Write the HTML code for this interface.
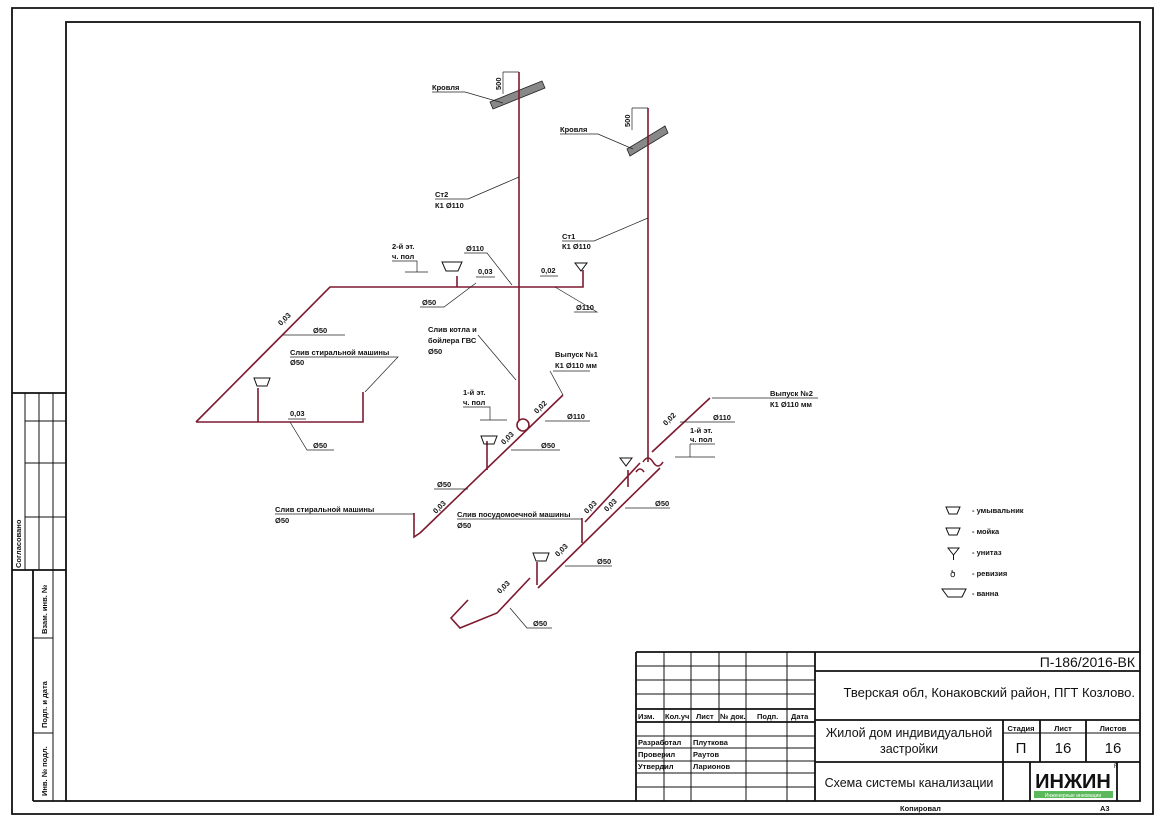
<!DOCTYPE html>
<html><head><meta charset="utf-8"><style>
html,body{margin:0;padding:0;background:#fff}
svg{display:block}
text{font-family:"Liberation Sans",sans-serif;fill:#111}
.t{font-size:7.5px;font-weight:bold}
.p{stroke:#7d1a30;stroke-width:1.6;fill:none}
.l{stroke:#222;stroke-width:0.7;fill:none}
.b{stroke:#111;stroke-width:1.8;fill:none}
.g{stroke:#111;stroke-width:1;fill:none}
</style></head><body>
<svg width="1166" height="824" viewBox="0 0 1166 824" xmlns="http://www.w3.org/2000/svg">
<path d="M12 8 H1153 V814 H12 Z" class="b" stroke-width="1.5"/>
<rect x="66" y="22" width="1074" height="779" class="b" stroke-width="2"/>
<path class="b" d="M12 393 H66 M12 570 H66 M33 570 V801 M33 801 H66" stroke-width="1.5"/>
<path class="g" d="M25 393 V570 M39 393 V570 M53 393 V570 M25 421 H66 M25 463 H66 M25 517 H66 M53 570 V801 M33 638 H53 M33 733 H53"/>
<text class="t" transform="translate(21,568) rotate(-90)">Согласовано</text>
<text class="t" transform="translate(47,634) rotate(-90)">Взам. инв. №</text>
<text class="t" transform="translate(47,728) rotate(-90)">Подп. и дата</text>
<text class="t" transform="translate(47,796) rotate(-90)">Инв. № подл.</text>
<path class="b" d="M636 652 H1140 M636 652 V801 M815 652 V801 M815 671 H1140 M815 720 H1140 M815 762 H1140 M1003 720 V801 M1040 720 V762 M1086 720 V762 M1030 762 V801 M1117 762 V801 M636 709 H815 M636 722 H815"/>
<path class="g" d="M664 652 V801 M691 652 V801 M719 652 V722 M746 652 V801 M787 652 V801 M636 666 H815 M636 680 H815 M636 694 H815 M636 736 H815 M636 748 H815 M636 761 H815 M636 773 H815 M636 787 H815 M1003 733 H1140 M691 722 V801"/>
<text class="t" x="638" y="719" font-size="6">Изм.</text>
<text class="t" x="665" y="719" font-size="6">Кол.уч</text>
<text class="t" x="696" y="719" font-size="6">Лист</text>
<text class="t" x="720" y="719" font-size="6">№ док.</text>
<text class="t" x="757" y="719" font-size="6">Подп.</text>
<text class="t" x="791" y="719" font-size="6">Дата</text>
<text class="t" x="638" y="745" font-size="7">Разработал</text>
<text class="t" x="693" y="745" font-size="7">Плуткова</text>
<text class="t" x="638" y="757" font-size="7">Проверил</text>
<text class="t" x="693" y="757" font-size="7">Раутов</text>
<text class="t" x="638" y="769" font-size="7">Утвердил</text>
<text class="t" x="693" y="769" font-size="7">Ларионов</text>
<text x="1135" y="667" font-size="14" text-anchor="end">П-186/2016-ВК</text>
<text x="1135" y="697" font-size="13" text-anchor="end">Тверская обл, Конаковский район, ПГТ Козлово.</text>
<text x="909" y="737" font-size="12.5" text-anchor="middle">Жилой дом индивидуальной</text>
<text x="909" y="753" font-size="12.5" text-anchor="middle">застройки</text>
<text x="909" y="787" font-size="12.5" text-anchor="middle">Схема системы канализации</text>
<text class="t" x="1021" y="731" font-size="6" text-anchor="middle">Стадия</text>
<text class="t" x="1063" y="731" font-size="6" text-anchor="middle">Лист</text>
<text class="t" x="1113" y="731" font-size="6" text-anchor="middle">Листов</text>
<text x="1021" y="753" font-size="15" text-anchor="middle">П</text>
<text x="1063" y="753" font-size="15" text-anchor="middle">16</text>
<text x="1113" y="753" font-size="15" text-anchor="middle">16</text>
<text x="1073" y="788" font-size="20" font-weight="bold" text-anchor="middle">ИНЖИН</text>
<rect x="1034" y="791" width="79" height="7" fill="#5bb85b"/>
<text x="1073" y="797" font-size="5" text-anchor="middle" style="fill:#fff">Инженерные инновации</text>
<text x="1114" y="768" font-size="6">R</text>
<text class="t" x="900" y="811" font-size="7">Копировал</text>
<text class="t" x="1100" y="811" font-size="7">А3</text>

<path class="l" d="M503 72 H519 M503 72 V94 M632 108 H648 M632 108 V130"/>
<text class="t" transform="translate(501,90) rotate(-90)">500</text>
<text class="t" transform="translate(630,127) rotate(-90)">500</text>
<polygon points="490,102 542,81 545,88 493,109" fill="#888" stroke="#222" stroke-width="0.8"/>
<polygon points="627,149 665,126 668,133 630,156" fill="#888" stroke="#222" stroke-width="0.8"/>
<text class="t" x="432" y="90">Кровля</text>
<path class="l" d="M432 92 H465 L503 103"/>
<text class="t" x="560" y="132">Кровля</text>
<path class="l" d="M560 134 H598 L633 149"/>
<path class="p" d="M519 72 V420 M648 108 V462"/>
<text class="t" x="435" y="197">Ст2</text><text class="t" x="435" y="208">К1 Ø110</text>
<path class="l" d="M435 199 H468 L519 177"/>
<text class="t" x="562" y="239">Ст1</text><text class="t" x="562" y="249">К1 Ø110</text>
<path class="l" d="M562 241 H594 L648 218"/>
<path class="p" d="M196 422 L330 287 H583 V270 M196 422 H363 V392 M258 422 V388 M457 287 V276"/>
<path d="M442 262 H462 L458 271 H446 Z" class="g"/>
<path d="M575 263 H587 L581 271 Z" class="g"/>
<path d="M254 378 H270 L267 386 H257 Z" class="g"/>
<text class="t" x="392" y="249">2-й эт.</text><text class="t" x="392" y="259">ч. пол</text>
<path class="l" d="M392 261 H417 V272 M405 272 H428"/>
<text class="t" x="466" y="251">Ø110</text><path class="l" d="M464 253 H487 L512 285"/>
<text class="t" x="478" y="274">0,03</text><path class="l" d="M476 277 H495"/>
<text class="t" x="422" y="305">Ø50</text><path class="l" d="M420 307 H444 L476 283"/>
<text class="t" x="541" y="273">0,02</text><path class="l" d="M540 276 H558"/>
<text class="t" x="576" y="310">Ø110</text><path class="l" d="M574 312 H597 L555 287"/>
<text class="t" transform="translate(281,326) rotate(-45)">0,03</text>
<text class="t" x="313" y="333">Ø50</text><path class="l" d="M283 335 H345"/>
<text class="t" x="290" y="355">Слив стиральной машины</text><text class="t" x="290" y="365">Ø50</text>
<path class="l" d="M290 357 H398 L365 392"/>
<text class="t" x="290" y="416">0,03</text><path class="l" d="M288 419 H306"/>
<text class="t" x="313" y="448">Ø50</text><path class="l" d="M290 422 L307 450 H334"/>
<text class="t" x="428" y="332">Слив котла и</text><text class="t" x="428" y="343">бойлера ГВС</text><text class="t" x="428" y="354">Ø50</text>
<path class="l" d="M478 335 L516 380"/>
<path class="p" d="M563 395 L420 533 M414 513 V537 L420 533 M487 441 V470"/>
<circle cx="523" cy="425" r="6" class="p"/>
<path d="M481 436 H497 L494 444 H484 Z" class="g"/>
<text class="t" x="555" y="357">Выпуск №1</text><text class="t" x="555" y="368">К1 Ø110 мм</text>
<path class="l" d="M553 371 H590 M550 371 L563 395"/>
<text class="t" transform="translate(537,414) rotate(-45)">0,02</text>
<text class="t" x="567" y="419">Ø110</text><path class="l" d="M545 421 H590"/>
<text class="t" x="463" y="395">1-й эт.</text><text class="t" x="463" y="405">ч. пол</text>
<path class="l" d="M463 407 H490 V420 M480 420 H507"/>
<text class="t" transform="translate(504,445) rotate(-45)">0,03</text>
<text class="t" x="541" y="448">Ø50</text><path class="l" d="M511 450 H560"/>
<text class="t" x="437" y="487">Ø50</text><path class="l" d="M434 489 H468"/>
<text class="t" transform="translate(436,514) rotate(-45)">0,03</text>
<text class="t" x="275" y="512">Слив стиральной машины</text><text class="t" x="275" y="523">Ø50</text>
<path class="l" d="M275 514 H414"/>
<path class="p" d="M710 398 L652 452 M640 463 L585 522 M660 468 L538 588 M628 470 V487 M582 518 V543 M537 562 V585 M530 578 L497 613 L460 628 L451 618 L468 600"/>
<path class="p" d="M643 462 q5 -8 10 0 q5 8 10 0 M636 472 q4 -6 8 0"/>
<path d="M620 458 H632 L626 466 Z" class="g"/>
<path d="M533 553 H549 L546 561 H536 Z" class="g"/>
<text class="t" x="770" y="396">Выпуск №2</text><text class="t" x="770" y="407">К1 Ø110 мм</text>
<path class="l" d="M712 398 H818"/>
<text class="t" transform="translate(666,426) rotate(-45)">0,02</text>
<text class="t" x="713" y="420">Ø110</text><path class="l" d="M680 422 H735"/>
<text class="t" x="690" y="433">1-й эт.</text><text class="t" x="690" y="442">ч. пол</text>
<path class="l" d="M690 444 H715 M690 444 V457 M675 457 H715"/>
<text class="t" transform="translate(587,514) rotate(-45)">0,03</text>
<text class="t" transform="translate(607,512) rotate(-45)">0,03</text>
<text class="t" x="655" y="506">Ø50</text><path class="l" d="M625 508 H670"/>
<text class="t" x="457" y="517">Слив посудомоечной машины</text><text class="t" x="457" y="528">Ø50</text>
<path class="l" d="M457 519 H582"/>
<text class="t" transform="translate(558,557) rotate(-45)">0,03</text>
<text class="t" x="597" y="564">Ø50</text><path class="l" d="M565 566 H612"/>
<text class="t" transform="translate(500,594) rotate(-45)">0,03</text>
<text class="t" x="533" y="626">Ø50</text><path class="l" d="M510 608 L527 628 H552"/>
<path d="M946 507 H960 L957 514 H949 Z" class="g"/><text class="t" x="972" y="513" font-size="6.5">- умывальник</text>
<path d="M946 528 H960 L957 535 H949 Z" class="g"/><text class="t" x="972" y="534" font-size="6.5">- мойка</text>
<path d="M948 548 H959 L953.5 555 Z M953.5 555 V560" class="g"/><text class="t" x="972" y="555" font-size="6.5">- унитаз</text>
<text x="950" y="577" font-size="9">ծ</text><text class="t" x="972" y="576" font-size="6.5">- ревизия</text>
<path d="M942 589 H966 L962 597 H948 Z" class="g"/><text class="t" x="972" y="596" font-size="6.5">- ванна</text>
</svg>
</body></html>
